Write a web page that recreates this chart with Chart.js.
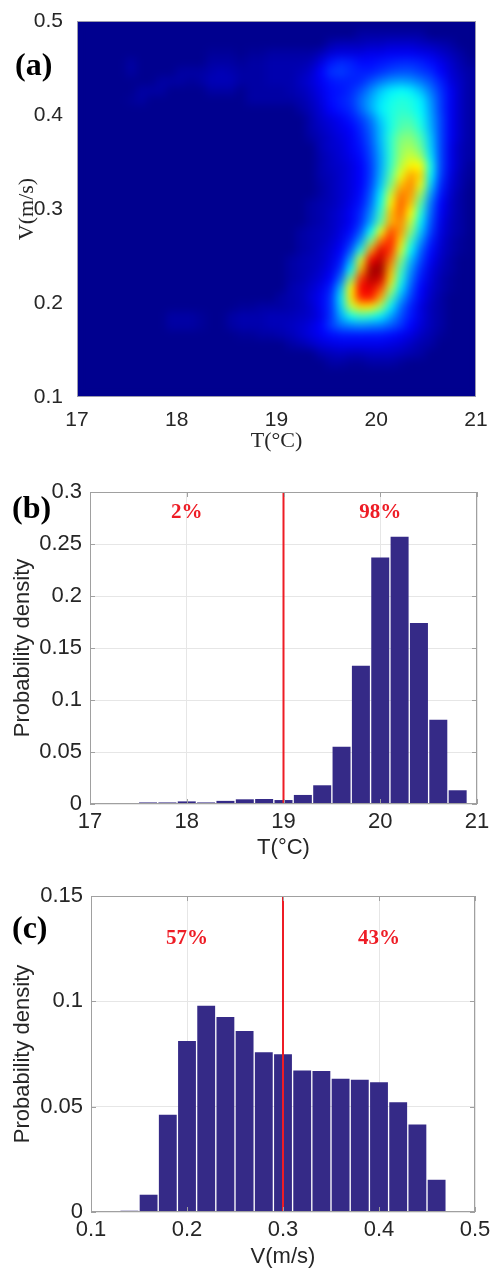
<!DOCTYPE html>
<html>
<head>
<meta charset="utf-8">
<script src="https://cdn.jsdelivr.net/npm/chart.js@4.4.1/dist/chart.umd.min.js"></script>
<style>
  html, body { margin: 0; padding: 0; background: #fff; }
  #page { position: relative; width: 491px; height: 1271px; overflow: hidden; }
  .panel { position: absolute; left: 0; width: 491px; }
  .panel canvas { display: block; }
  .tag {
    position: absolute; z-index: 2; color: #000;
    font-family: 'Liberation Serif', 'Times New Roman', serif;
    font-weight: bold; font-size: 32px; line-height: 32px;
  }
</style>
</head>
<body>
<div id="page">
  <div class="panel" style="top:0;height:460px"><canvas id="heatmap"></canvas></div>
  <div class="panel" style="top:462px;height:404px"><canvas id="temp-hist"></canvas></div>
  <div class="panel" style="top:866px;height:405px"><canvas id="speed-hist"></canvas></div>
  <div class="tag" style="left:15px;top:48px">(a)</div>
  <div class="tag" style="left:12px;top:491px">(b)</div>
  <div class="tag" style="left:12px;top:911px">(c)</div>
</div>

<script>
// Cell centres of the joint T / V density grid
const tCenters = [
    17.05, 17.15, 17.25, 17.35, 17.45, 17.55, 17.65, 17.75, 17.85, 17.95,
    18.05, 18.15, 18.25, 18.35, 18.45, 18.55, 18.65, 18.75, 18.85, 18.95,
    19.05, 19.15, 19.25, 19.35, 19.45, 19.55, 19.65, 19.75, 19.85, 19.95,
    20.05, 20.15, 20.25, 20.35, 20.45, 20.55, 20.65, 20.75, 20.85, 20.95
];
// top row first
const vCenters = [
    0.495, 0.485, 0.475, 0.465, 0.455, 0.445, 0.435, 0.425, 0.415, 0.405,
    0.395, 0.385, 0.375, 0.365, 0.355, 0.345, 0.335, 0.325, 0.315, 0.305,
    0.295, 0.285, 0.275, 0.265, 0.255, 0.245, 0.235, 0.225, 0.215, 0.205,
    0.195, 0.185, 0.175, 0.165, 0.155, 0.145, 0.135, 0.125, 0.115, 0.105
];
// relative density (0-100), one row per vCenters entry, one column per tCenters entry
const density = [
    [0,0,0,0,0,0,0,0,0,0, 0,0,0,0,0,0,0,0,0,0, 0,0,0,0,0,0,0,0,0,0, 0,0,0,0,0,0,0,0,0,0],
    [0,0,0,0,0,0,0,0,0,0, 0,0,0,0,0,0,0,0,0,0, 0,0,0,0,0,0,0,0,2,2, 2,2,2,2,2,0,0,0,0,0],
    [0,0,0,0,0,0,0,0,0,0, 0,0,0,0,0,0,0,0,0,0, 0,0,0,0,0,3,4,4,4,5, 5,6,6,6,5,4,3,2,0,0],
    [0,0,0,0,0,0,0,0,0,0, 0,0,0,1,1,1,0,1,1,2, 2,2,2,2,4,7,8,8,8,9, 9,10,10,10,9,8,6,4,2,0],
    [0,0,0,0,0,2,0,0,0,0, 0,0,0,2,2,2,1,2,2,3, 3,3,3,4,8,13,15,14,12,12, 13,14,15,15,14,12,9,6,3,1],
    [0,0,0,0,0,2,0,0,0,0, 2,2,2,3,4,3,2,2,2,3, 3,3,4,6,11,16,17,15,14,14, 16,18,19,19,17,15,11,7,4,2],
    [0,0,0,0,0,0,0,0,2,2, 2,1,2,4,4,4,2,2,2,3, 3,3,5,7,10,13,14,14,15,19, 23,26,27,26,23,19,14,8,5,2],
    [0,0,0,0,0,0,2,2,2,0, 0,0,0,2,2,2,0,2,2,2, 2,3,4,6,9,12,13,15,19,25, 31,35,37,35,30,23,16,10,5,2],
    [0,0,0,0,0,1,2,0,0,0, 0,0,0,0,0,0,0,2,2,2, 2,2,3,5,8,12,14,16,22,28, 34,38,40,39,35,26,17,10,5,2],
    [0,0,0,0,0,0,0,0,0,0, 0,0,0,0,0,0,0,0,0,0, 0,0,2,4,7,11,13,15,21,28, 35,39,41,40,36,27,17,10,5,2],
    [0,0,0,0,0,0,0,0,0,0, 0,0,0,0,0,0,0,0,0,0, 0,0,0,3,6,8,10,13,17,23, 32,39,43,43,38,28,18,10,5,2],
    [0,0,0,0,0,0,0,0,0,0, 0,0,0,0,0,0,0,0,0,0, 0,0,0,3,5,7,9,11,15,21, 30,39,45,46,40,29,18,10,5,2],
    [0,0,0,0,0,0,0,0,0,0, 0,0,0,0,0,0,0,0,0,0, 0,0,0,2,4,6,8,10,14,20, 30,41,49,50,44,31,18,10,5,2],
    [0,0,0,0,0,0,0,0,0,0, 0,0,0,0,0,0,0,0,0,0, 0,0,0,0,4,6,7,10,13,19, 29,41,51,53,47,32,18,9,4,2],
    [0,0,0,0,0,0,0,0,0,0, 0,0,0,0,0,0,0,0,0,0, 0,0,0,0,3,5,7,9,12,18, 28,41,52,57,52,34,18,9,4,2],
    [0,0,0,0,0,0,0,0,0,0, 0,0,0,0,0,0,0,0,0,0, 0,0,0,0,3,5,6,8,11,17, 28,42,55,63,62,38,18,9,4,1],
    [0,0,0,0,0,0,0,0,0,0, 0,0,0,0,0,0,0,0,0,0, 0,0,0,0,3,4,6,8,11,17, 29,45,60,71,66,36,17,8,3,1],
    [0,0,0,0,0,0,0,0,0,0, 0,0,0,0,0,0,0,0,0,0, 0,0,0,0,2,4,6,8,11,18, 31,49,68,74,60,32,15,7,3,0],
    [0,0,0,0,0,0,0,0,0,0, 0,0,0,0,0,0,0,0,0,0, 0,0,0,0,2,4,6,8,12,20, 35,57,75,72,52,27,13,6,2,0],
    [0,0,0,0,0,0,0,0,0,0, 0,0,0,0,0,0,0,0,0,0, 0,0,0,2,3,4,6,9,13,22, 38,63,78,68,45,23,11,5,2,0],
    [0,0,0,0,0,0,0,0,0,0, 0,0,0,0,0,0,0,0,0,0, 0,0,0,2,3,5,7,10,15,25, 42,68,77,62,40,21,10,5,2,0],
    [0,0,0,0,0,0,0,0,0,0, 0,0,0,0,0,0,0,0,0,0, 0,0,0,2,3,5,7,10,16,28, 46,70,74,56,35,19,9,4,2,0],
    [0,0,0,0,0,0,0,0,0,0, 0,0,0,0,0,0,0,0,0,0, 0,0,2,3,4,5,8,12,20,37, 60,80,72,50,31,17,8,4,2,0],
    [0,0,0,0,0,0,0,0,0,0, 0,0,0,0,0,0,0,0,0,0, 0,0,2,3,4,6,9,15,27,50, 76,84,66,42,26,14,7,3,1,0],
    [0,0,0,0,0,0,0,0,0,0, 0,0,0,0,0,0,0,0,0,0, 0,0,2,3,5,7,11,20,40,72, 90,82,58,36,21,12,6,3,1,0],
    [0,0,0,0,0,0,0,0,0,0, 0,0,0,0,0,0,0,0,0,0, 0,2,3,4,5,8,13,28,58,88, 94,76,50,30,18,10,5,2,0,0],
    [0,0,0,0,0,0,0,0,0,0, 0,0,0,0,0,0,0,0,0,0, 0,2,3,4,6,9,16,36,70,96, 97,70,44,26,15,8,4,2,0,0],
    [0,0,0,0,0,0,0,0,0,0, 0,0,0,0,0,0,0,0,0,0, 0,2,3,5,7,11,22,50,82,95, 92,66,40,23,13,7,3,1,0,0],
    [0,0,0,0,0,0,0,0,0,0, 0,0,0,0,0,0,0,0,0,0, 0,3,4,6,9,14,30,62,88,90, 80,55,34,20,11,6,3,1,0,0],
    [0,0,0,0,0,0,0,0,0,0, 0,0,0,0,0,0,0,0,0,0, 2,3,4,7,10,16,34,64,84,85, 70,45,28,17,10,5,2,0,0,0],
    [0,0,0,0,0,0,0,0,0,0, 0,0,0,0,0,0,1,1,2,2, 2,3,4,6,10,16,32,55,65,64, 52,35,22,14,8,4,2,0,0,0],
    [0,0,0,0,0,0,0,0,0,2, 2,2,1,0,0,2,3,3,3,4, 4,4,5,6,9,16,28,38,42,40, 35,27,19,13,8,4,2,0,0,0],
    [0,0,0,0,0,0,0,0,0,2, 2,2,1,0,0,2,3,3,3,4, 4,5,6,8,11,17,22,24,25,24, 23,20,16,11,7,4,2,0,0,0],
    [0,0,0,0,0,0,0,0,0,0, 0,0,0,0,0,0,1,1,2,2, 3,4,6,8,10,12,13,13,13,13, 13,12,10,8,5,3,1,0,0,0],
    [0,0,0,0,0,0,0,0,0,0, 0,0,0,0,0,0,0,0,0,0, 0,2,3,5,7,8,9,9,9,9, 9,8,7,5,3,2,0,0,0,0],
    [0,0,0,0,0,0,0,0,0,0, 0,0,0,0,0,0,0,0,0,0, 0,0,0,0,3,4,5,4,4,5, 5,5,4,3,2,0,0,0,0,0],
    [0,0,0,0,0,0,0,0,0,0, 0,0,0,0,0,0,0,0,0,0, 0,0,0,0,0,2,2,1,1,2, 2,2,1,0,0,0,0,0,0,0],
    [0,0,0,0,0,0,0,0,0,0, 0,0,0,0,0,0,0,0,0,0, 0,0,0,0,0,0,0,0,0,0, 0,0,0,0,0,0,0,0,0,0],
    [0,0,0,0,0,0,0,0,0,0, 0,0,0,0,0,0,0,0,0,0, 0,0,0,0,0,0,0,0,0,0, 0,0,0,0,0,0,0,0,0,0],
    [0,0,0,0,0,0,0,0,0,0, 0,0,0,0,0,0,0,0,0,0, 0,0,0,0,0,0,0,0,0,0, 0,0,0,0,0,0,0,0,0,0]
];

// Temperature histogram (bin centres, 0.2 wide)
const tempBins = [17.6, 17.8, 18.0, 18.2, 18.4, 18.6, 18.8, 19.0, 19.2, 19.4, 19.6, 19.8, 20.0, 20.2, 20.4, 20.6, 20.8];
const tempDensity = [0.0015, 0.0015, 0.0025, 0.0015, 0.003, 0.0045, 0.0048, 0.0038, 0.0087, 0.018, 0.055, 0.133, 0.237, 0.257, 0.174, 0.081, 0.0132];
const tempSplit = 19;
const tempShares = ['2%', '98%'];

// Velocity histogram (bin centres, 0.02 wide)
const speedBins = [0.14, 0.16, 0.18, 0.20, 0.22, 0.24, 0.26, 0.28, 0.30, 0.32, 0.34, 0.36, 0.38, 0.40, 0.42, 0.44, 0.46, 0.48];
const speedDensity = [0.0006, 0.0082, 0.0462, 0.0812, 0.0979, 0.0926, 0.0859, 0.0758, 0.0749, 0.0672, 0.0669, 0.0633, 0.0628, 0.0616, 0.0521, 0.0415, 0.0153, 0.0003];
const speedSplit = 0.3;
const speedShares = ['57%', '43%'];

const SANS = "'Liberation Sans', Arial, Helvetica, sans-serif";
const SERIF = "'Liberation Serif', 'Times New Roman', serif";
const BAR_COLOR = '#352a87';
const SPLIT_COLOR = '#ee1c25';

Chart.defaults.font.family = SANS;
Chart.defaults.color = '#262626';

// MATLAB-like jet colormap, t in [0, 1]
function jet(t) {
    const c = v => Math.round(255 * Math.max(0, Math.min(1, v)));
    const s = 1 / 64 + Math.max(0, Math.min(1, t)) * 63 / 64;
    return `rgb(${c(1.5 - Math.abs(4 * s - 3))},${c(1.5 - Math.abs(4 * s - 2))},${c(1.5 - Math.abs(4 * s - 1))})`;
}

function plainTick(value) {
    return String(parseFloat(value.toFixed(3)));
}

function fixWidth(w) {
    return scale => { scale.width = w; };
}

// fixed axis height; end labels may hang past the plot edge
function fixHeight(h) {
    return scale => {
        scale.height = h;
        scale.paddingLeft = 0;
        scale.paddingRight = 0;
    };
}

// Fill the plot area before the cells go on
const plotBackground = {
    id: 'plotBackground',
    beforeDatasetsDraw(chart, args, opts) {
        const { ctx, chartArea: a } = chart;
        ctx.save();
        ctx.fillStyle = opts.color;
        ctx.fillRect(a.left, a.top, a.width, a.height);
        ctx.restore();
    }
};

// Soften the cell grid into a continuous field
const smoothCells = {
    id: 'smoothCells',
    afterDatasetsDraw(chart, args, opts) {
        const { ctx, canvas, chartArea: a } = chart;
        const r = chart.currentDevicePixelRatio || 1;
        const tmp = document.createElement('canvas');
        tmp.width = Math.round(a.width * r);
        tmp.height = Math.round(a.height * r);
        tmp.getContext('2d').drawImage(canvas, a.left * r, a.top * r, a.width * r, a.height * r, 0, 0, tmp.width, tmp.height);
        ctx.save();
        ctx.beginPath();
        ctx.rect(a.left, a.top, a.width, a.height);
        ctx.clip();
        ctx.filter = `blur(${opts.radius}px)`;
        ctx.drawImage(tmp, a.left, a.top, a.width, a.height);
        ctx.restore();
    }
};

// Box around the axes, with short inward ticks
const axesBox = {
    id: 'axesBox',
    afterDraw(chart, args, opts) {
        const { ctx, chartArea: a, scales } = chart;
        ctx.save();
        ctx.strokeStyle = opts.color;
        ctx.lineWidth = 1;
        const len = opts.tickLength || 0;
        if (len) {
            ctx.beginPath();
            scales.x.ticks.forEach(t => {
                const px = Math.round(scales.x.getPixelForValue(t.value)) + 0.5;
                ctx.moveTo(px, a.bottom); ctx.lineTo(px, a.bottom - len);
                ctx.moveTo(px, a.top); ctx.lineTo(px, a.top + len);
            });
            scales.y.ticks.forEach(t => {
                const py = Math.round(scales.y.getPixelForValue(t.value)) + 0.5;
                ctx.moveTo(a.left, py); ctx.lineTo(a.left + len, py);
                ctx.moveTo(a.right, py); ctx.lineTo(a.right - len, py);
            });
            ctx.stroke();
        }
        ctx.strokeRect(Math.round(a.left) + 0.5, Math.round(a.top) + 0.5, Math.round(a.width) - 1, Math.round(a.height) - 1);
        ctx.restore();
    }
};

// Percentage labels on either side of the split line
const shareLabels = {
    id: 'shareLabels',
    afterDatasetsDraw(chart, args, opts) {
        const { ctx, scales: { x, y } } = chart;
        ctx.save();
        ctx.font = `bold 21px ${SERIF}`;
        ctx.fillStyle = SPLIT_COLOR;
        ctx.textAlign = 'center';
        ctx.textBaseline = 'middle';
        opts.items.forEach(item => {
            ctx.fillText(item.text, x.getPixelForValue(item.x), y.getPixelForValue(item.y));
        });
        ctx.restore();
    }
};

// Build the cells of the density map
function buildCells() {
    const cells = [];
    vCenters.forEach((v, row) => {
        tCenters.forEach((t, col) => {
            cells.push({ x: t, y: v, level: density[row][col] });
        });
    });
    return cells;
}

// Square radius that covers one grid cell
function cellRadius(chart) {
    const xs = chart.scales.x;
    const ys = chart.scales.y;
    const w = Math.abs(xs.getPixelForValue(tCenters[1]) - xs.getPixelForValue(tCenters[0]));
    const h = Math.abs(ys.getPixelForValue(vCenters[0]) - ys.getPixelForValue(vCenters[1]));
    return (Math.max(w, h) / 2 + 0.5) / Math.SQRT1_2;
}

// Panel (a): joint density of T and V
function createHeatmap() {
    const ctx = document.getElementById('heatmap').getContext('2d');
    new Chart(ctx, {
        type: 'scatter',
        data: {
            datasets: [{
                data: buildCells(),
                pointStyle: 'rect',
                pointRadius: c => cellRadius(c.chart),
                pointHoverRadius: c => cellRadius(c.chart),
                borderWidth: 0,
                backgroundColor: c => jet((c.raw ? c.raw.level : 0) / 100),
                clip: 0
            }]
        },
        options: {
            responsive: true,
            maintainAspectRatio: false,
            animation: false,
            events: [],
            layout: { padding: { left: 0, right: 15, top: 21, bottom: 0 } },
            plugins: {
                legend: { display: false },
                tooltip: { enabled: false },
                plotBackground: { color: jet(0) },
                smoothCells: { radius: 4 },
                axesBox: { color: '#9a9aae', tickLength: 0 }
            },
            scales: {
                x: {
                    type: 'linear', min: 17, max: 21,
                    afterFit: fixHeight(63),
                    grid: { display: false },
                    border: { display: false },
                    ticks: { stepSize: 1, padding: 3, font: { size: 21 }, callback: plainTick },
                    title: { display: true, text: 'T(°C)', font: { family: SERIF, size: 22 }, padding: { top: 0, bottom: 6 } }
                },
                y: {
                    type: 'linear', min: 0.1, max: 0.5,
                    afterFit: fixWidth(77),
                    grid: { display: false },
                    border: { display: false },
                    ticks: { stepSize: 0.1, padding: 6, font: { size: 21 }, callback: plainTick },
                    title: { display: true, text: 'V(m/s)', font: { family: SERIF, size: 22 }, padding: { top: 14, bottom: 0 } }
                }
            }
        },
        plugins: [plotBackground, smoothCells, axesBox]
    });
}

// Panels (b) and (c): histogram with a split line and share labels
function createHistogram(id, opts) {
    const ctx = document.getElementById(id).getContext('2d');
    new Chart(ctx, {
        type: 'bar',
        data: {
            datasets: [{
                type: 'bar',
                order: 1,
                data: opts.bins.map((b, i) => ({ x: b, y: opts.values[i] })),
                backgroundColor: BAR_COLOR,
                borderWidth: 0,
                barPercentage: 0.93,
                categoryPercentage: 1,
                grouped: false
            }, {
                type: 'line',
                order: 0,
                data: [{ x: opts.split, y: opts.yMin }, { x: opts.split, y: opts.yMax }],
                borderColor: SPLIT_COLOR,
                borderWidth: 2,
                pointRadius: 0,
                clip: 0
            }]
        },
        options: {
            responsive: true,
            maintainAspectRatio: false,
            animation: false,
            events: [],
            layout: { padding: opts.padding },
            plugins: {
                legend: { display: false },
                tooltip: { enabled: false },
                axesBox: { color: '#a0a0a0', tickLength: 5 },
                shareLabels: { items: opts.labels }
            },
            scales: {
                x: {
                    type: 'linear', min: opts.xMin, max: opts.xMax,
                    offset: false,
                    afterFit: fixHeight(opts.xAxisHeight),
                    grid: { color: '#e6e6e6', drawTicks: false, offset: false },
                    border: { display: false },
                    ticks: { stepSize: opts.xStep, padding: 5, font: { size: 22 }, callback: plainTick },
                    title: { display: true, text: opts.xTitle, font: { size: 22 }, padding: { top: 0, bottom: opts.titleBottom } }
                },
                y: {
                    type: 'linear', min: opts.yMin, max: opts.yMax,
                    afterFit: fixWidth(opts.yAxisWidth),
                    grid: { color: '#e6e6e6', drawTicks: false },
                    border: { display: false },
                    ticks: { stepSize: opts.yStep, padding: 8, font: { size: 22 }, callback: plainTick },
                    title: { display: true, text: 'Probability density', font: { size: 22 }, padding: { top: 10, bottom: 0 } }
                }
            }
        },
        plugins: [axesBox, shareLabels]
    });
}

function initApp() {
    createHeatmap();
    createHistogram('temp-hist', {
        bins: tempBins, values: tempDensity, split: tempSplit,
        xMin: 17, xMax: 21, xStep: 1, yMin: 0, yMax: 0.3, yStep: 0.05,
        xTitle: 'T(°C)',
        padding: { left: 0, right: 14, top: 30, bottom: 0 },
        xAxisHeight: 62, yAxisWidth: 90, titleBottom: 5,
        labels: [
            { text: tempShares[0], x: 18, y: 0.28 },
            { text: tempShares[1], x: 20, y: 0.28 }
        ]
    });
    createHistogram('speed-hist', {
        bins: speedBins, values: speedDensity, split: speedSplit,
        xMin: 0.1, xMax: 0.5, xStep: 0.1, yMin: 0, yMax: 0.15, yStep: 0.05,
        xTitle: 'V(m/s)',
        padding: { left: 0, right: 16, top: 30, bottom: 0 },
        xAxisHeight: 59, yAxisWidth: 91, titleBottom: 1,
        labels: [
            { text: speedShares[0], x: 0.2, y: 0.13 },
            { text: speedShares[1], x: 0.4, y: 0.13 }
        ]
    });
}

document.addEventListener('DOMContentLoaded', initApp);
</script>
</body>
</html>
